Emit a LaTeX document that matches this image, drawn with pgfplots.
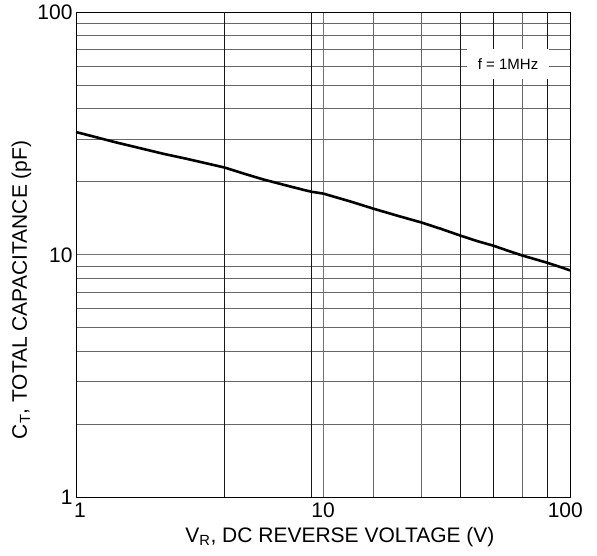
\documentclass[border=0pt]{standalone}
\usepackage{pgfplots}
\pgfplotsset{compat=1.18}
\usepackage{fontspec}
\setmainfont{Liberation Sans}
\begin{document}
\begin{tikzpicture}
\path[use as bounding box] (-76pt,-58.5pt) rectangle (521pt,497.5pt);
\begin{axis}[
  at={(0,0)}, anchor=south west,
  scale only axis,
  width=494.3pt, height=485.2pt,
  xmode=log, ymode=log,
  xmin=1, xmax=100, ymin=1, ymax=100,
  xtick={1,10,100}, xticklabels={\hspace*{8pt}1,10,100\hspace*{10pt}},
  ytick={1,10,100}, yticklabels={1,\raisebox{-5pt}{10},\raisebox{-5pt}{100}},
  minor xtick={16,25,64},
  minor ytick={2,3,4,5,6,7,8,9,20,30,40,50,60,70,80,90},
  extra x ticks={4,9,36,49,81},
  extra x tick labels={},
  extra x tick style={grid=major, major grid style={black!90, line width=0.9pt}},
  major tick length=0pt, minor tick length=0pt,
  grid=both,
  major grid style={black!55, line width=0.9pt},
  minor grid style={black!60, line width=0.9pt},
  axis line style={black, line width=0.9pt},
  tick label style={font=\fontsize{21}{25}\selectfont},
  xticklabel style={anchor=north, inner sep=0pt, yshift=-5.5pt},
  yticklabel style={anchor=east, inner sep=0pt, xshift=-3.3pt},
  label style={font=\fontsize{21}{25}\selectfont},
  xlabel={V\textsubscript{R}, DC REVERSE VOLTAGE (V)},
  xlabel style={at={(rel axis cs:0.534,0)}, anchor=base, yshift=-45.2pt, inner sep=0pt},
  ylabel={C\textsubscript{T}, TOTAL CAPACITANCE (pF)},
  ylabel style={at={(rel axis cs:0,0.428)}, anchor=base, yshift=49pt, inner sep=0pt},
]
\addplot[black, line width=2.6pt, line join=round] coordinates {
  (1,32.1) (1.2,30.6) (1.43,29.2) (1.8,27.6) (2.26,26.1) (2.8,24.9)
  (3.72,23.3) (4,22.9) (4.8,21.6) (5.69,20.5) (7,19.4) (8.4,18.5)
  (9,18.2) (10,17.9) (12.9,16.6) (16,15.5) (20,14.5) (25,13.6)
  (30,12.8) (36,12.0) (42,11.4) (49,10.9) (56,10.4) (64,9.94)
  (72,9.6) (81,9.27) (90,8.95) (100,8.63)
};
\node[fill=white, minimum width=82pt, minimum height=30pt, inner sep=0pt,
  font=\fontsize{15}{18}\selectfont] at (axis cs:56,61.2) {f = 1MHz};
\end{axis}
\end{tikzpicture}
\end{document}
